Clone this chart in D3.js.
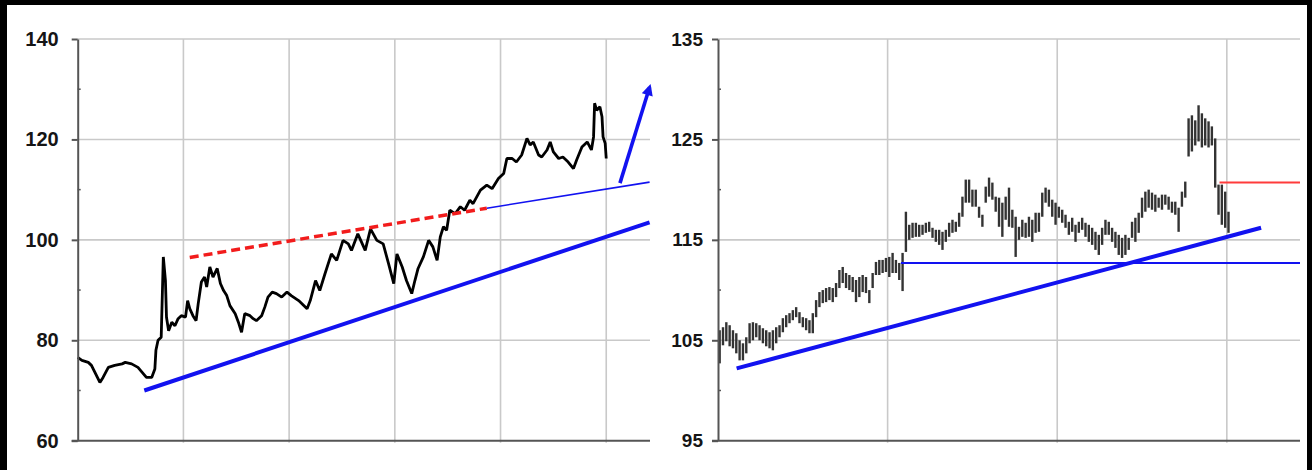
<!DOCTYPE html>
<html>
<head>
<meta charset="utf-8">
<script src="https://cdn.jsdelivr.net/npm/d3@7"></script>
<style>
  body { margin: 0; background: #fff; }
  svg { display: block; }
</style>
</head>
<body>
<div id="chart"></div>
<script>
// left panel: daily closes, x in years
const leftTicks = [60, 80, 100, 120, 140];
const leftMinor = [70, 90, 110, 130];
const leftYearLines = [1, 2, 3, 4, 5];
const leftYears = [0.00,0.04,0.10,0.13,0.21,0.24,0.29,0.35,0.42,0.45,
  0.51,0.57,0.61,0.65,0.70,0.73,0.74,0.76,0.79,
  0.81,0.83,0.84,0.86,0.89,0.92,0.95,0.98,1.02,1.04,
  1.06,1.09,1.12,1.14,1.17,1.20,1.22,1.25,1.28,1.32,
  1.35,1.38,1.41,1.44,1.49,1.52,1.55,1.58,1.63,1.66,
  1.69,1.74,1.77,1.80,1.84,1.88,1.93,1.98,2.02,2.09,
  2.17,2.20,2.25,2.29,2.34,2.40,2.45,2.51,2.56,2.59,
  2.65,2.72,2.77,2.83,2.89,2.94,2.99,3.02,3.07,3.11,
  3.16,3.19,3.22,3.27,3.32,3.36,3.40,3.43,3.46,3.49,
  3.52,3.57,3.62,3.66,3.71,3.74,3.81,3.87,3.92,3.98,
  4.03,4.06,4.11,4.15,4.20,4.25,4.28,4.31,4.36,4.39,
  4.44,4.47,4.50,4.55,4.59,4.64,4.69,4.72,4.77,4.82,
  4.86,4.88,4.89,4.91,4.94,4.96,4.97,4.99,5.00];
const leftPrice = [76.6,76.0,75.6,75.0,71.6,72.6,74.6,75.0,75.3,75.6,
  75.3,74.6,73.6,72.6,72.6,74.3,78.0,80.0,80.6,
  96.6,91.9,84.6,81.9,83.6,82.9,84.3,84.9,84.6,87.9,
  86.3,84.9,83.9,87.3,91.6,92.6,90.6,94.6,92.6,94.3,
  91.3,89.9,88.9,86.9,85.3,83.6,81.6,85.3,84.9,84.3,
  83.9,84.9,86.6,88.6,89.6,89.3,88.6,89.6,88.9,87.9,
  86.3,87.9,91.9,89.9,93.3,97.2,95.9,99.9,99.2,97.9,
  101.2,97.9,102.2,99.9,99.2,95.3,91.3,97.2,94.6,91.9,
  89.3,91.9,94.3,96.6,99.9,98.6,95.9,100.6,102.6,101.9,
  105.9,105.2,106.6,105.9,107.9,107.2,109.9,110.9,110.2,112.2,
  113.2,116.2,116.2,115.5,116.9,120.2,118.9,119.5,116.9,116.5,
  117.9,119.5,117.5,116.2,116.5,115.5,114.2,115.9,118.5,119.5,
  117.9,120.5,127.2,125.8,126.5,124.5,120.5,119.2,116.2];
const leftSupport = [[0.63, 70.0], [5.41, 103.5]];
const leftResistance = [[1.06, 96.5], [3.87, 106.3]];
const leftBreakout = [[3.87, 106.3], [5.41, 111.5]];
const leftArrow = [[5.13, 111.3], [5.41, 130.4]];

// right panel: weekly high/low bars
const rightTicks = [95, 105, 115, 125, 135];
const rightMinor = [100, 110, 120, 130];
const rightYearLines = [51, 102, 153];
const rightHigh = [106.0,106.3,106.8,106.5,106.0,105.7,105.0,104.7,105.3,106.7,
  106.8,106.7,106.5,106.2,106.0,105.8,106.0,106.3,106.5,107.2,
  107.5,107.7,108.0,108.3,107.8,107.3,107.2,107.0,107.7,109.0,
  109.8,110.0,110.2,110.3,110.2,110.7,112.0,112.3,111.7,111.5,
  111.3,111.0,111.3,111.5,111.3,110.0,111.7,112.8,113.0,113.0,
  113.2,113.3,113.7,113.0,112.7,113.7,117.8,116.5,116.7,116.7,
  116.5,116.5,116.7,116.8,116.2,116.0,116.0,115.8,116.0,116.7,
  117.0,116.8,117.7,119.3,121.0,121.0,120.0,120.0,118.3,117.5,
  120.3,121.2,120.7,119.3,119.2,118.7,119.3,120.2,118.0,117.3,
  116.3,117.0,116.7,117.3,117.0,117.7,117.7,119.7,120.2,120.0,
  119.0,118.7,118.3,118.0,117.5,116.8,117.2,116.5,116.8,117.2,
  116.7,116.5,116.2,115.8,115.5,116.2,117.0,116.8,116.2,115.8,
  115.5,115.2,115.5,115.2,116.8,117.2,117.7,119.2,119.8,120.0,
  119.7,119.5,119.2,119.5,119.5,119.3,118.8,118.8,118.2,119.8,
  120.8,127.1,127.4,126.9,128.4,127.6,127.1,126.8,126.3,125.1,
  120.5,120.5,119.8,117.8];
const rightLow = [102.7,104.5,104.9,104.4,104.2,103.7,103.0,103.0,103.7,104.7,
  105.0,105.3,105.0,104.7,104.4,104.2,104.0,104.7,105.3,105.8,
  106.3,106.7,107.0,107.3,106.7,106.3,106.0,105.7,105.7,107.3,
  108.3,108.7,108.8,109.0,108.8,109.3,110.2,110.7,110.2,110.0,
  109.8,108.8,109.3,109.8,109.7,108.7,110.2,111.5,111.5,111.7,
  111.8,111.3,111.7,111.7,111.0,109.9,113.8,115.0,115.2,115.3,
  115.3,115.5,115.7,115.8,115.2,114.8,114.5,114.0,114.8,115.3,
  115.7,115.8,116.3,117.3,118.7,118.7,118.3,118.3,117.2,116.3,
  118.7,119.3,119.0,117.8,116.3,115.3,117.0,116.3,116.2,113.3,
  115.0,115.3,115.2,115.3,114.8,115.7,115.8,117.3,118.7,118.3,
  117.3,116.5,117.2,116.7,116.2,115.5,115.8,114.8,115.7,116.0,
  115.3,114.8,114.5,114.0,113.5,114.5,115.5,115.5,114.8,114.2,
  113.5,113.2,113.5,114.0,115.2,114.8,115.7,117.2,117.8,118.2,
  118.0,117.8,118.2,118.0,118.5,118.0,117.7,117.5,115.8,118.3,
  119.2,123.3,123.8,124.4,124.8,124.2,124.4,124.2,124.4,120.2,
  117.5,116.5,116.2,115.7];
const rightSupport = [[5.6, 102.2], [163.3, 116.2]];
const rightFloor = [[55, 112.7], [175, 112.7]];
const rightCap = [[150.8, 120.7], [175, 120.7]];

const W = 1312, H = 470;
const svg = d3.select('#chart').append('svg')
    .attr('width', W)
    .attr('height', H)
    .style('font-family', '"Liberation Sans", Arial, sans-serif');

svg.append('rect').attr('width', W).attr('height', H).attr('fill', '#fff');

svg.append('defs').append('marker')
    .attr('id', 'arrow')
    .attr('viewBox', '0 0 10 10')
    .attr('refX', 7).attr('refY', 5)
    .attr('markerWidth', 3.6).attr('markerHeight', 3.2)
    .attr('orient', 'auto')
    .append('path')
    .attr('d', 'M0,0L10,5L0,10z')
    .attr('fill', '#1515ee');

const blue = '#1212f0';
const line = (x, y) => d3.line().x(d => x(d[0])).y(d => y(d[1]));

function drawFrame(p) {
    const x = d3.scaleLinear().domain(p.xDomain).range([p.x0, p.x1]);
    const y = d3.scaleLinear().domain(d3.extent(p.ticks)).range([440.7, 39]);
    const g = svg.append('g');

    // grid
    g.append('g').selectAll('line')
        .data(p.ticks.slice(1))
        .join('line')
        .attr('x1', p.x0).attr('x2', p.x1)
        .attr('y1', d => y(d)).attr('y2', d => y(d))
        .attr('stroke', '#c9c9c9')
        .attr('stroke-width', 1.6);
    g.append('g').selectAll('line')
        .data(p.vlines)
        .join('line')
        .attr('x1', d => x(d)).attr('x2', d => x(d))
        .attr('y1', y.range()[1]).attr('y2', y.range()[0] + 2)
        .attr('stroke', '#c9c9c9')
        .attr('stroke-width', 1.6);

    return { x, y, g };
}

function drawAxis(p, f) {
    const axis = d3.axisLeft(f.y)
        .tickValues(p.ticks)
        .tickSize(6)
        .tickSizeOuter(0)
        .tickPadding(p.pad);
    const a = svg.append('g')
        .attr('transform', `translate(${p.x0},0)`)
        .call(axis);
    a.select('.domain').attr('stroke', '#555').attr('stroke-width', 2);
    a.selectAll('.tick line').attr('stroke', '#555').attr('stroke-width', 2);
    a.selectAll('.tick text')
        .attr('font-family', '"Liberation Sans", Arial, sans-serif')
        .attr('font-size', p.font)
        .attr('font-weight', 'bold')
        .attr('fill', '#151515');

    // minor ticks inside the axis
    a.selectAll('.minor')
        .data(p.minor)
        .join('line')
        .attr('class', 'minor')
        .attr('x1', 0).attr('x2', 3)
        .attr('y1', d => f.y(d)).attr('y2', d => f.y(d))
        .attr('stroke', '#555')
        .attr('stroke-width', 1.5);

    // bottom axis line
    svg.append('line')
        .attr('x1', p.x0 - 6).attr('x2', p.x1)
        .attr('y1', f.y(p.ticks[0])).attr('y2', f.y(p.ticks[0]))
        .attr('stroke', '#555')
        .attr('stroke-width', 2);
}

// ---- left panel
const L = { x0: 77.7, x1: 650, xDomain: [0, 5.414], ticks: leftTicks, minor: leftMinor,
            vlines: leftYearLines, pad: 13, font: 20 };
const lf = drawFrame(L);

lf.g.append('path')
    .datum(leftYears.map((t, i) => [t, leftPrice[i]]))
    .attr('d', line(lf.x, lf.y))
    .attr('fill', 'none')
    .attr('stroke', '#000')
    .attr('stroke-width', 2.8)
    .attr('stroke-linejoin', 'bevel');

lf.g.append('path').datum(leftSupport)
    .attr('d', line(lf.x, lf.y))
    .attr('stroke', blue).attr('stroke-width', 4).attr('fill', 'none');
lf.g.append('path').datum(leftResistance)
    .attr('d', line(lf.x, lf.y))
    .attr('stroke', '#f21c1c').attr('stroke-width', 3.5)
    .attr('stroke-dasharray', '9,5').attr('fill', 'none');
lf.g.append('path').datum(leftBreakout)
    .attr('d', line(lf.x, lf.y))
    .attr('stroke', blue).attr('stroke-width', 1.6).attr('fill', 'none');
lf.g.append('path').datum(leftArrow)
    .attr('d', line(lf.x, lf.y))
    .attr('stroke', blue).attr('stroke-width', 3.6).attr('fill', 'none')
    .attr('marker-end', 'url(#arrow)');

drawAxis(L, lf);

// ---- right panel
const R = { x0: 718, x1: 1300, xDomain: [0, 175], ticks: rightTicks, minor: rightMinor,
            vlines: rightYearLines, pad: 9, font: 19 };
const rf = drawFrame(R);

rf.g.append('g').selectAll('line')
    .data(rightHigh.map((h, i) => ({ i, h, l: rightLow[i] })))
    .join('line')
    .attr('x1', d => rf.x(d.i + 0.5)).attr('x2', d => rf.x(d.i + 0.5))
    .attr('y1', d => rf.y(d.h)).attr('y2', d => rf.y(d.l))
    .attr('stroke', '#333')
    .attr('stroke-width', 2.4);

rf.g.append('path').datum(rightFloor)
    .attr('d', line(rf.x, rf.y))
    .attr('stroke', blue).attr('stroke-width', 2).attr('fill', 'none');
rf.g.append('path').datum(rightCap)
    .attr('d', line(rf.x, rf.y))
    .attr('stroke', '#ff3b3b').attr('stroke-width', 2).attr('fill', 'none');
rf.g.append('path').datum(rightSupport)
    .attr('d', line(rf.x, rf.y))
    .attr('stroke', blue).attr('stroke-width', 4).attr('fill', 'none');

drawAxis(R, rf);

// black frame (no bottom edge)
svg.append('rect').attr('x', 0).attr('y', 0).attr('width', 7).attr('height', H).attr('fill', '#000');
svg.append('rect').attr('x', 0).attr('y', 0).attr('width', W).attr('height', 5).attr('fill', '#000');
svg.append('rect').attr('x', 1307).attr('y', 0).attr('width', 5).attr('height', H).attr('fill', '#000');
</script>
</body>
</html>
